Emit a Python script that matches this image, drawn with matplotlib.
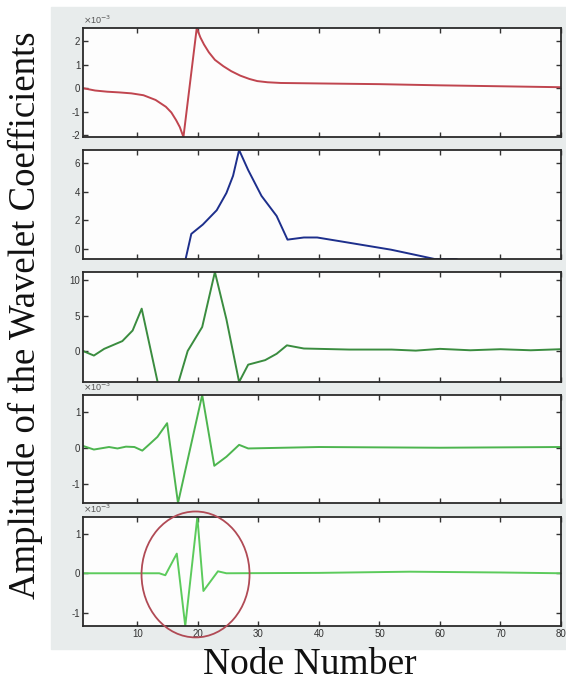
import matplotlib.pyplot as plt
from matplotlib.patches import Ellipse, Rectangle

plt.rcParams['axes.unicode_minus'] = False
plt.rcParams['font.family'] = ['Liberation Sans', 'DejaVu Sans']

# key points (node number, amplitude)
x1 = [1, 3, 5, 7, 9, 11, 13, 14.7, 15.6, 16.4, 17.0, 17.6, 19.8, 20.4, 21.0, 21.8, 22.8, 24.2, 25.5, 27, 28.5, 29.8, 31.5, 33.7, 40, 50, 60, 70, 80]
y1 = [0, -0.1, -0.15, -0.18, -0.22, -0.3, -0.5, -0.79, -1.03, -1.36, -1.65, -2.07, 2.55, 2.15, 1.85, 1.52, 1.2, 0.93, 0.72, 0.53, 0.39, 0.3, 0.25, 0.22, 0.2, 0.17, 0.12, 0.08, 0.04]

x2 = [17.8, 18.9, 20.8, 23.1, 24.7, 25.8, 26.8, 28.3, 30.5, 33, 34.8, 37.5, 39.7, 43.6, 51.9, 55.8, 59.1, 62.7, 65]
y2 = [-1.0, 1.05, 1.7, 2.7, 3.9, 5.1, 6.9, 5.5, 3.7, 2.3, 0.65, 0.8, 0.8, 0.53, -0.05, -0.4, -0.7, -0.7, -1.2]

x3 = [1, 2.8, 4.5, 7.5, 9.2, 10.7, 14.8, 18.3, 20.7, 22.8, 24.7, 26.8, 28.3, 31.1, 33, 34.7, 37.5, 45, 52, 56, 60, 65, 70, 75, 80]
y3 = [0, -0.65, 0.3, 1.4, 2.9, 6.0, -10.2, 0, 3.4, 11.2, 4.5, -4.4, -1.94, -1.3, -0.4, 0.8, 0.35, 0.2, 0.2, 0.05, 0.3, 0.1, 0.25, 0.1, 0.25]

x4 = [1, 2.8, 5.3, 6.7, 8.1, 9.5, 10.8, 12.0, 13.3, 14.9, 16.7, 20.7, 22.7, 24.7, 26.8, 28.3, 40, 60, 80]
y4 = [0.05, -0.05, 0.02, -0.02, 0.03, 0.02, -0.08, 0.1, 0.3, 0.68, -1.53, 1.46, -0.5, -0.25, 0.08, -0.02, 0.02, 0.0, 0.02]

x5 = [1, 13.6, 14.6, 16.5, 17.9, 19.9, 20.9, 23.3, 24.7, 40, 55, 70, 80]
y5 = [0, 0, -0.05, 0.5, -1.34, 1.43, -0.45, 0.05, 0, 0.01, 0.04, 0.02, 0]

xs = [x1, x2, x3, x4, x5]
ys = [y1, y2, y3, y4, y5]
ylims = [(-2.07, 2.55), (-0.7, 6.9), (-4.4, 11.2), (-1.53, 1.46), (-1.34, 1.43)]
yticks = [[-2, -1, 0, 1, 2], [0, 2, 4, 6], [0, 5, 10], [-1, 0, 1], [-1, 0, 1]]
colors = ['#c0454f', '#1d2f8c', '#3a8c3f', '#4db54f', '#5ccb5c']
scaled = [True, False, False, True, True]
xticks = [10, 20, 30, 40, 50, 60, 70, 80]

# axes placement in pixels (top, bottom)
rows = [(28, 137), (150, 259), (272, 382), (395, 503), (517, 626)]

fig = plt.figure(figsize=(5.66, 6.84), dpi=100)
bg = Rectangle((51 / 566, 1 - 649 / 684), 1 - 51 / 566, 642 / 684,
               transform=fig.transFigure, color='#e8ecec', zorder=-10)
fig.patches.append(bg)

axes = []
for i in range(5):
    top, bot = rows[i]
    ax = fig.add_axes([83 / 566, 1 - bot / 684, 478 / 566, (bot - top) / 684])
    ax.set_facecolor('#fdfdfd')
    ax.plot(xs[i], ys[i], color=colors[i], lw=1.4)
    ax.set_xlim(1, 80)
    ax.set_ylim(*ylims[i])
    ax.set_yticks(yticks[i])
    ax.set_xticks(xticks)
    if i < 4:
        ax.set_xticklabels([])
    ax.tick_params(direction='in', top=True, right=True, length=3.5, width=1,
                   labelsize=7, colors='#333333', pad=2)
    for s in ax.spines.values():
        s.set_color('#2a2a2a')
        s.set_linewidth(1.3)
    if scaled[i]:
        ax.text(0, 1.02, r'$\times$10$^{-3}$', transform=ax.transAxes,
                fontsize=6.5, color='#555555', ha='left', va='bottom')
    axes.append(ax)

circle = Ellipse((19.6, -0.03), 17.85, 3.2, fill=False, edgecolor='#b04a55',
                 lw=1.3, clip_on=False, zorder=5)
axes[4].add_patch(circle)

fig.text(25 / 566, 1 - 315 / 684, 'Amplitude of the Wavelet Coefficients', rotation=90,
         ha='center', va='center', fontsize=26.5, family='Liberation Serif', color='#111111')
fig.text(310 / 566, 1 - 665 / 684, 'Node Number', ha='center', va='center',
         fontsize=27, family='Liberation Serif', color='#111111')

fig.savefig('out.png', dpi=100)
